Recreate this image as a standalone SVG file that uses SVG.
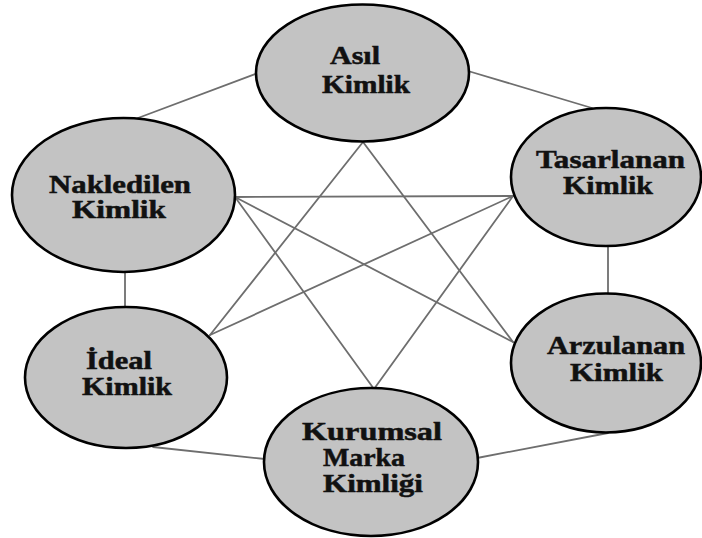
<svg xmlns="http://www.w3.org/2000/svg" width="702" height="538" viewBox="0 0 702 538">
  <style>
    .link { stroke: #6e6e6e; stroke-width: 1.8; fill: none; stroke-linecap: round; }
    .node { fill: #c3c3c3; stroke: #000; stroke-width: 2.6; }
    .label { font-family: "Liberation Serif", "DejaVu Serif", "Times New Roman", serif; font-weight: 700; font-size: 25px; fill: #111; stroke: #111; stroke-width: 0.5; }
  </style>
  <rect width="702" height="538" fill="#fff"/>

  <g id="connectors">
    <!-- outer ring -->
    <line class="link" x1="258" y1="73" x2="138" y2="118"/>
    <line class="link" x1="468" y1="71" x2="592" y2="108"/>
    <line class="link" x1="608" y1="245" x2="608" y2="294"/>
    <line class="link" x1="125" y1="272" x2="125" y2="307"/>
    <line class="link" x1="153" y1="447" x2="265" y2="459"/>
    <line class="link" x1="608" y1="433" x2="477" y2="458"/>
    <!-- inner star -->
    <line class="link" x1="363" y1="142" x2="210" y2="335"/>
    <line class="link" x1="363" y1="142" x2="513" y2="342"/>
    <line class="link" x1="235" y1="197" x2="513" y2="196"/>
    <line class="link" x1="235" y1="197" x2="513" y2="342"/>
    <line class="link" x1="235" y1="197" x2="374" y2="389"/>
    <line class="link" x1="513" y1="196" x2="210" y2="335"/>
    <line class="link" x1="513" y1="196" x2="374" y2="389"/>
  </g>

  <g id="asil">
    <ellipse class="node" cx="362.5" cy="73" rx="106.5" ry="68.5"/>
    <text class="label" x="330" y="64" textLength="50" lengthAdjust="spacingAndGlyphs">Asıl</text>
    <text class="label" x="322" y="93" textLength="88" lengthAdjust="spacingAndGlyphs">Kimlik</text>
  </g>

  <g id="nakledilen">
    <ellipse class="node" cx="123.5" cy="195" rx="111.5" ry="77"/>
    <text class="label" x="49" y="193" textLength="142" lengthAdjust="spacingAndGlyphs">Nakledilen</text>
    <text class="label" x="72" y="218" textLength="94" lengthAdjust="spacingAndGlyphs">Kimlik</text>
  </g>

  <g id="tasarlanan">
    <ellipse class="node" cx="606" cy="177" rx="95" ry="69"/>
    <text class="label" x="536" y="168" textLength="149" lengthAdjust="spacingAndGlyphs">Tasarlanan</text>
    <text class="label" x="563" y="194" textLength="90" lengthAdjust="spacingAndGlyphs">Kimlik</text>
  </g>

  <g id="ideal">
    <ellipse class="node" cx="126" cy="377.5" rx="101" ry="70.5"/>
    <text class="label" x="86" y="369" textLength="66" lengthAdjust="spacingAndGlyphs">İdeal</text>
    <text class="label" x="82" y="395" textLength="90" lengthAdjust="spacingAndGlyphs">Kimlik</text>
  </g>

  <g id="arzulanan">
    <ellipse class="node" cx="606" cy="363" rx="95" ry="69.5"/>
    <text class="label" x="547" y="354" textLength="138" lengthAdjust="spacingAndGlyphs">Arzulanan</text>
    <text class="label" x="570" y="381" textLength="93" lengthAdjust="spacingAndGlyphs">Kimlik</text>
  </g>

  <g id="kurumsal">
    <ellipse class="node" cx="371" cy="462" rx="107" ry="74"/>
    <text class="label" x="302" y="440" textLength="140" lengthAdjust="spacingAndGlyphs">Kurumsal</text>
    <text class="label" x="323" y="466" textLength="82" lengthAdjust="spacingAndGlyphs">Marka</text>
    <text class="label" x="323" y="492" textLength="100" lengthAdjust="spacingAndGlyphs">Kimliği</text>
  </g>
</svg>
